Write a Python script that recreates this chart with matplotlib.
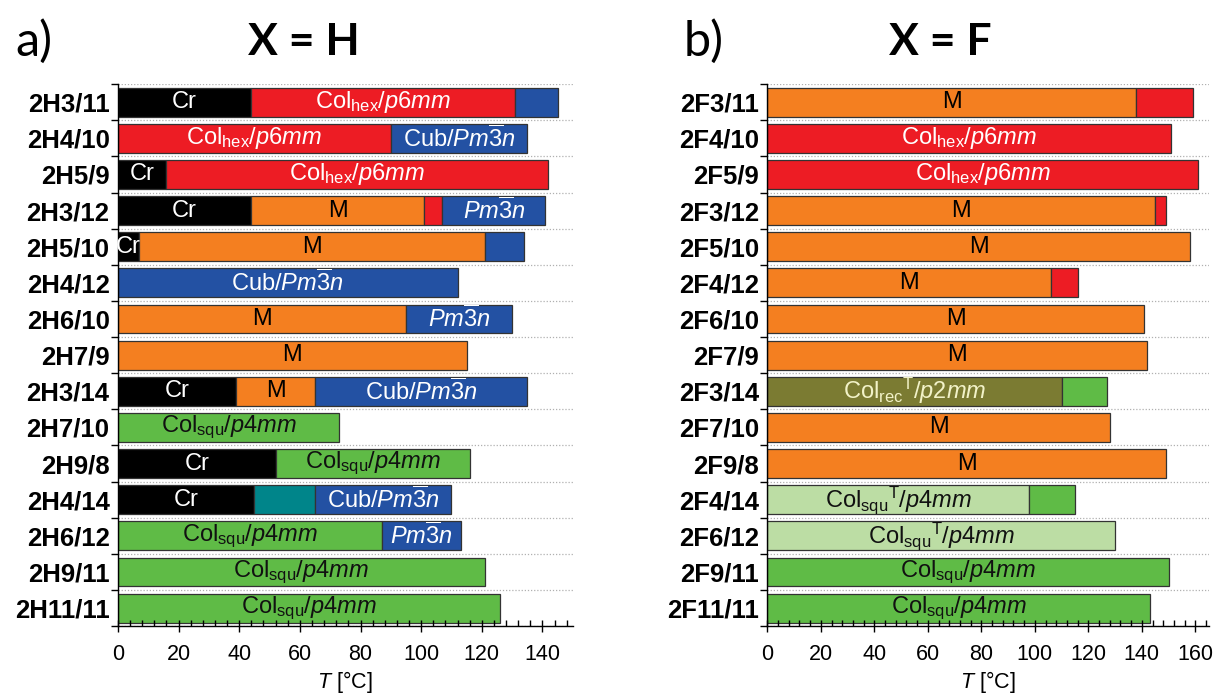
import matplotlib
matplotlib.use('Agg')
import matplotlib.pyplot as plt
import numpy as np

# 字体设置
plt.rcParams['font.family'] = ['Liberation Sans', 'DejaVu Sans']
plt.rcParams['mathtext.fontset'] = 'custom'
plt.rcParams['mathtext.rm'] = 'Liberation Sans'
plt.rcParams['mathtext.it'] = 'Liberation Sans:italic'
plt.rcParams['mathtext.bf'] = 'Liberation Sans:bold'

# 数据: X = H
h_rows = ['2H3/11', '2H4/10', '2H5/9', '2H3/12', '2H5/10', '2H4/12', '2H6/10', '2H7/9',
          '2H3/14', '2H7/10', '2H9/8', '2H4/14', '2H6/12', '2H9/11', '2H11/11']
h_bounds = [[44, 131, 145], [90, 135], [16, 142], [44, 101, 107, 141], [7, 121, 134],
            [112], [95, 130], [115], [39, 65, 135], [73], [52, 116], [45, 65, 110],
            [87, 113], [121], [126]]
h_phases = [['Cr', 'hex', 'cub'], ['hex', 'cub'], ['Cr', 'hex'], ['Cr', 'M', 'hex', 'cub'],
            ['Cr', 'M', 'cub'], ['cub'], ['M', 'cub'], ['M'], ['Cr', 'M', 'cub'], ['squ'],
            ['Cr', 'squ'], ['Cr', 'teal', 'cub'], ['squ', 'cub'], ['squ'], ['squ']]
h_labels = [['Cr', 'hex', ''], ['hex', 'cub'], ['Cr', 'hex'], ['Cr', 'M', '', 'pm3n'],
            ['Cr', 'M', ''], ['cub'], ['M', 'pm3n'], ['M'], ['Cr', 'M', 'cub'], ['squ'],
            ['Cr', 'squ'], ['Cr', '', 'cub'], ['squ', 'pm3n'], ['squ'], ['squ']]

# 数据: X = F
f_rows = ['2F3/11', '2F4/10', '2F5/9', '2F3/12', '2F5/10', '2F4/12', '2F6/10', '2F7/9',
          '2F3/14', '2F7/10', '2F9/8', '2F4/14', '2F6/12', '2F9/11', '2F11/11']
f_bounds = [[138, 159], [151], [161], [145, 149], [158], [106, 116], [141], [142],
            [110, 127], [128], [149], [98, 115], [130], [150], [143]]
f_phases = [['M', 'hex'], ['hex'], ['hex'], ['M', 'hex'], ['M'], ['M', 'hex'], ['M'], ['M'],
            ['rec', 'squ'], ['M'], ['M'], ['squT', 'squ'], ['squT'], ['squ'], ['squ']]
f_labels = [['M', ''], ['hex'], ['hex'], ['M', ''], ['M'], ['M', ''], ['M'], ['M'],
            ['recT', ''], ['M'], ['M'], ['squT', ''], ['squT'], ['squ'], ['squ']]

colors = {'Cr': '#000000', 'hex': '#ED1C24', 'cub': '#2351A3', 'M': '#F47F20',
          'squ': '#5FBB46', 'teal': '#00858A', 'rec': '#7B7B32', 'squT': '#BCDDA4'}

texts = {'Cr': 'Cr', 'M': 'M',
         'hex': r'Col$_{\mathrm{hex}}$/$\mathit{p6mm}$',
         'cub': r'Cub/$\mathit{Pm}\overline{\mathit{3}}\mathit{n}$',
         'pm3n': r'$\mathit{Pm}\overline{\mathit{3}}\mathit{n}$',
         'squ': r'Col$_{\mathrm{squ}}$/$\mathit{p4mm}$',
         'squT': r'Col$_{\mathrm{squ}}{}^{\mathrm{T}}$/$\mathit{p4mm}$',
         'recT': r'Col$_{\mathrm{rec}}{}^{\mathrm{T}}$/$\mathit{p2mm}$'}

text_colors = {'Cr': 'white', 'hex': 'white', 'cub': 'white', 'pm3n': 'white', 'M': 'black',
               'squ': '#111111', 'squT': '#111111', 'recT': '#F2F2C8'}


def draw_panel(ax, rows, bounds, phases, labels, xmax, xticks):
    n = len(rows)
    y = np.arange(n)
    # 虚线网格
    for b in np.arange(n + 1) - 0.5:
        ax.axhline(b, color='#b0b0b0', linestyle=(0, (1, 1.5)), linewidth=0.9, zorder=0)
    for i in range(n):
        left = 0
        for end, ph, lab in zip(bounds[i], phases[i], labels[i]):
            ax.barh(y[i], end - left, left=left, height=0.8, color=colors[ph],
                    edgecolor='#333333', linewidth=0.9, zorder=2)
            if lab:
                ax.text((left + end) / 2, y[i], texts[lab], ha='center', va='center',
                        fontsize=17, color=text_colors[lab], zorder=3)
            left = end
    ax.set_axisbelow(False)  # 刻度画在柱子上面
    ax.set_xlim(0, xmax)
    ax.set_ylim(n - 0.5, -0.5)
    ax.set_yticks(y)
    ax.set_yticklabels(rows, fontsize=18.5, fontweight='bold')
    ax.tick_params(axis='y', length=0, pad=6)
    ax.set_yticks(np.arange(n + 1) - 0.5, minor=True)
    ax.tick_params(axis='y', which='minor', length=5, direction='out', width=1)
    ax.set_xticks(xticks)
    ax.set_xticks(np.arange(0, xmax + 0.1, 4), minor=True)
    ax.tick_params(axis='x', which='major', direction='inout', length=9, width=1,
                   labelsize=15.5, pad=8)
    ax.tick_params(axis='x', which='minor', direction='in', length=4, width=1)
    for s in ['top', 'right']:
        ax.spines[s].set_visible(False)
    ax.spines['left'].set_linewidth(1)
    ax.spines['bottom'].set_linewidth(1)
    ax.set_xlabel(r'$\mathit{T}$ [°C]', fontsize=15.5, labelpad=3)


fig = plt.figure(figsize=(12.16, 6.95), dpi=100)
ax1 = fig.add_axes([0.097, 0.099, 0.374, 0.780])
ax2 = fig.add_axes([0.631, 0.099, 0.363, 0.780])

draw_panel(ax1, h_rows, h_bounds, h_phases, h_labels, 150, np.arange(0, 141, 20))
draw_panel(ax2, f_rows, f_bounds, f_phases, f_labels, 165, np.arange(0, 161, 20))

# 标题
fig.text(0.028, 0.94, 'a)', fontsize=35, family='Lato', ha='center', va='center')
fig.text(0.250, 0.94, 'X = H', fontsize=32, family='Lato', fontweight='bold',
         ha='center', va='center')
fig.text(0.579, 0.94, 'b)', fontsize=35, family='Lato', ha='center', va='center')
fig.text(0.773, 0.94, 'X = F', fontsize=32, family='Lato', fontweight='bold',
         ha='center', va='center')

plt.savefig('out.png', dpi=100)
